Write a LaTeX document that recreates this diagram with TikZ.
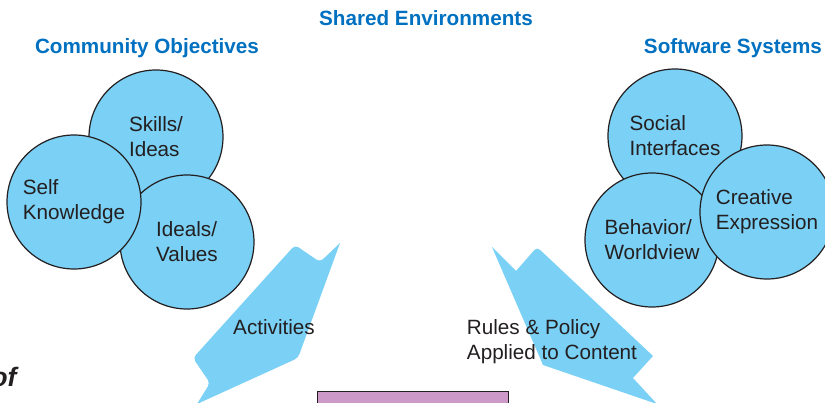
\documentclass[tikz,border=0pt]{standalone}
\usepackage{fontspec}
\setmainfont{Liberation Sans}
\definecolor{sky}{RGB}{122,208,245}
\definecolor{ink}{RGB}{35,31,32}
\definecolor{titleblue}{RGB}{0,112,192}
\definecolor{mauve}{RGB}{204,153,200}
\newcommand{\bodyfont}{\fontsize{15.5}{18.75}\selectfont}
\tikzset{every picture/.style={line width=0.75pt}}

\begin{document}
\begin{tikzpicture}[x=0.75pt,y=0.75pt,yscale=-1,xscale=1,
  bubble/.style={circle, draw=ink, fill=sky, line width=0.9pt, minimum size=100.5pt, inner sep=0pt, align=left, font=\bodyfont, text=ink},
  heading/.style={font=\bodyfont\bfseries, text=titleblue},
  caption/.style={font=\bodyfont, text=ink, align=left}]
\useasboundingbox (0,0) rectangle (825,403);
\clip (0,0) rectangle (825,403);

%Shape: Callout Arrow [id:activities] 
\fill [sky] (340,243) [rounded corners=3] -- (320,262) -- (295,245) -- (193,358) -- (210,383) [sharp corners] -- (197,404) [rounded corners=3] -- (298,358) [sharp corners] -- cycle ;

%Shape: Callout Arrow [id:rules] 
\fill [sky] (492,247) -- (516,271) [rounded corners=3] -- (537,247) [sharp corners] -- (653,356) -- (633,378) -- (657,404) -- (543,365) -- cycle ;

%Shape: Rectangle [id:stage] 
\node [draw=ink, fill=mauve, line width=1pt, minimum width=143.25pt, minimum height=30pt, anchor=north west] (stage) at (317,391) {};

%Shape: Circle [id:skills] 
\node [bubble] (skills) at (156,137) {Skills/\\Ideas};
%Shape: Circle [id:ideals] 
\node [bubble] (ideals) at (187,242) {Ideals/\\Values};
%Shape: Circle [id:self] 
\node [bubble] (self) at (74,202) {Self\\Knowledge};

%Shape: Circle [id:social] 
\node [bubble] (social) at (675,136) {Social\\Interfaces};
%Shape: Circle [id:behavior] 
\node [bubble] (behavior) at (652,240) {Behavior/\\Worldview};
%Shape: Circle [id:creative] 
\node [bubble] (creative) at (767,212) {Creative\\Expression};

% Text Node
\node [heading] (shared) at (426,18) {Shared Environments};
% Text Node
\node [heading] (community) at (147,48) {Community Objectives};
% Text Node
\node [heading] (software) at (733,48) {Software Systems};
% Text Node
\node [caption] (activities) at (274,327) {Activities};
% Text Node
\node [caption] (rulestext) at (552,342) {Rules \& Policy\\Applied to Content};
% Text Node
\node [font=\fontsize{20}{24}\selectfont\bfseries\itshape, text=ink, anchor=base east, inner sep=0pt] (of) at (17,386) {of};

\end{tikzpicture}
\end{document}
